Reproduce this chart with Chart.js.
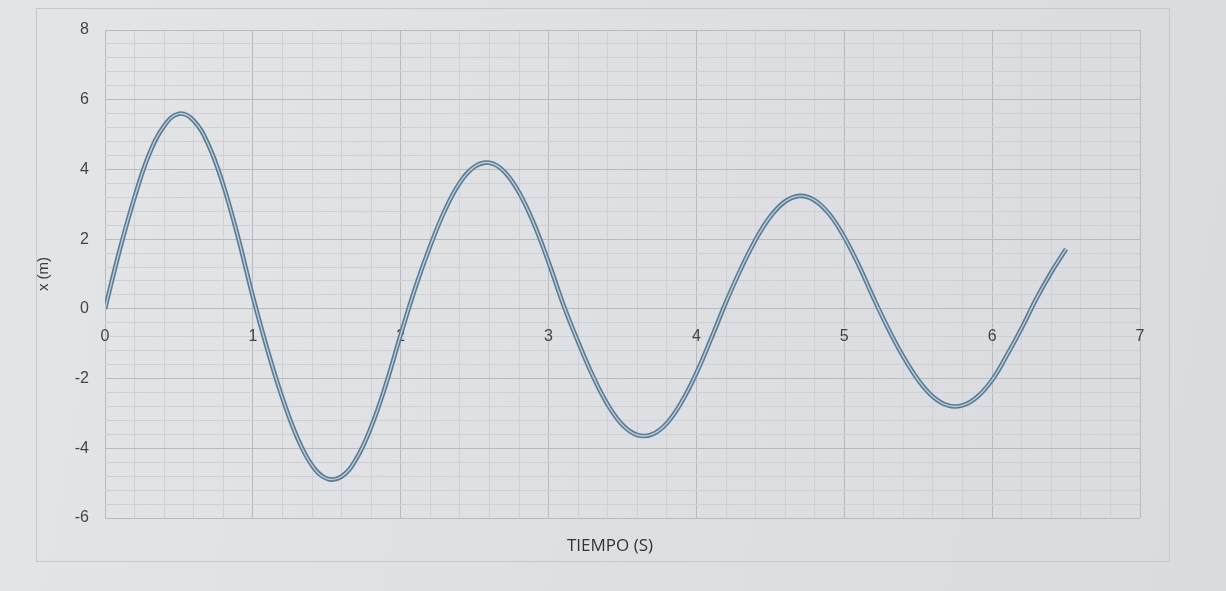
<!DOCTYPE html>
<html>
<head>
<meta charset="utf-8">
<script src="https://cdn.jsdelivr.net/npm/chart.js@4.4.1/dist/chart.umd.min.js"></script>
<style>
  html, body { margin: 0; padding: 0; }
  body {
    width: 1226px; height: 591px; overflow: hidden;
    background: linear-gradient(100deg, #e4e5e7 0%, #dedfe2 55%, #dadbde 100%);
    position: relative;
  }
  #marco {
    position: absolute; left: 36px; top: 8px; width: 1132px; height: 552px;
    border: 1px solid #c6c7c9;
  }
  #wrap { position: absolute; left: 0; top: 0; width: 1226px; height: 591px; }
  #tituloX {
    position: absolute; left: 510px; width: 200px; top: 533px;
    text-align: center; font-family: 'Open Sans', sans-serif; font-size: 17px; color: #333;
  }
</style>
</head>
<body>
<div id="marco"></div>
<div id="wrap"><canvas id="grafico" width="1226" height="591"></canvas></div>
<div id="tituloX">TIEMPO (S)</div>
<script>
// tiempo (s) y posicion x (m)
const tiempos = [0, 0.1, 0.2, 0.3, 0.4, 0.5, 0.6, 0.7, 0.8, 0.9,
  1.0, 1.1, 1.2, 1.3, 1.4, 1.5, 1.6, 1.7, 1.8, 1.9,
  2.0, 2.1, 2.2, 2.3, 2.4, 2.5, 2.6, 2.7, 2.8, 2.9,
  3.0, 3.1, 3.2, 3.3, 3.4, 3.5, 3.6, 3.7, 3.8, 3.9,
  4.0, 4.1, 4.2, 4.3, 4.4, 4.5, 4.6, 4.7, 4.8, 4.9,
  5.0, 5.1, 5.2, 5.3, 5.4, 5.5, 5.6, 5.7, 5.8, 5.9,
  6.0, 6.1, 6.2, 6.3, 6.4, 6.5];
const posiciones = [0, 1.7, 3.2, 4.45, 5.25, 5.6, 5.4, 4.7, 3.55, 2.05,
  0.35, -1.19, -2.56, -3.69, -4.49, -4.87, -4.81, -4.3, -3.39, -2.17,
  -0.74, 0.62, 1.81, 2.84, 3.62, 4.08, 4.19, 3.94, 3.34, 2.45,
  1.34, 0.12, -0.95, -1.93, -2.75, -3.33, -3.62, -3.6, -3.28, -2.67,
  -1.84, -0.85, 0.19, 1.14, 1.98, 2.65, 3.08, 3.24, 3.11, 2.71,
  2.06, 1.23, 0.29, -0.59, -1.38, -2.04, -2.52, -2.77, -2.77, -2.52,
  -2.04, -1.33, -0.55, 0.3, 1.05, 1.72];

const etiquetasX = [0, 1, 2, 3, 4, 5, 6, 7];
const etiquetasY = [-6, -4, -2, 0, 2, 4, 6, 8];

const puntos = tiempos.map((t, i) => ({ x: t, y: posiciones[i] }));

const esEtiqueta = (v, lista) => lista.some(e => Math.abs(e - v) < 1e-6);

const ctx = document.getElementById('grafico').getContext('2d');
new Chart(ctx, {
  type: 'line',
  data: {
    datasets: [
      {
        // linea clara encima (efecto de doble trazo)
        data: puntos,
        borderColor: '#bccddb',
        borderWidth: 1.4,
        pointRadius: 0,
        tension: 0.4,
        fill: false
      },
      {
        data: puntos,
        borderColor: '#5a7c94',
        borderWidth: 4.6,
        pointRadius: 0,
        tension: 0.4,
        fill: false
      }
    ]
  },
  options: {
    responsive: false,
    animation: false,
    devicePixelRatio: 1,
    layout: { padding: { left: 35, right: 86, top: 30, bottom: 73 } },
    plugins: {
      legend: { display: false },
      tooltip: { enabled: false }
    },
    scales: {
      x: {
        type: 'linear',
        position: { y: 0 },
        min: 0,
        max: 7,
        border: { display: false },
        grid: {
          drawTicks: false,
          color: c => esEtiqueta(c.tick.value, etiquetasX) ? '#b9babd' : '#cfd0d3',
          lineWidth: 1
        },
        ticks: {
          stepSize: 0.2,
          autoSkip: false,
          maxRotation: 0,
          padding: 18,
          color: '#444',
          font: { family: 'Liberation Sans', size: 16 },
          callback: v => esEtiqueta(v, etiquetasX) ? String(Math.round(v)) : ''
        }
      },
      y: {
        type: 'linear',
        min: -6,
        max: 8,
        afterFit: s => { s.width = 70; },
        border: { display: false },
        grid: {
          drawTicks: false,
          color: c => esEtiqueta(c.tick.value, etiquetasY) ? '#b9babd' : '#cfd0d3',
          lineWidth: 1
        },
        ticks: {
          stepSize: 0.4,
          autoSkip: false,
          padding: 16,
          color: '#444',
          font: { family: 'Liberation Sans', size: 16 },
          callback: v => esEtiqueta(v, etiquetasY) ? String(Math.round(v)) : ''
        },
        title: {
          display: true,
          text: 'x (m)',
          color: '#3a3a3a',
          font: { family: 'Liberation Sans', size: 15 },
          padding: 0
        }
      }
    }
  }
});
</script>
</body>
</html>
